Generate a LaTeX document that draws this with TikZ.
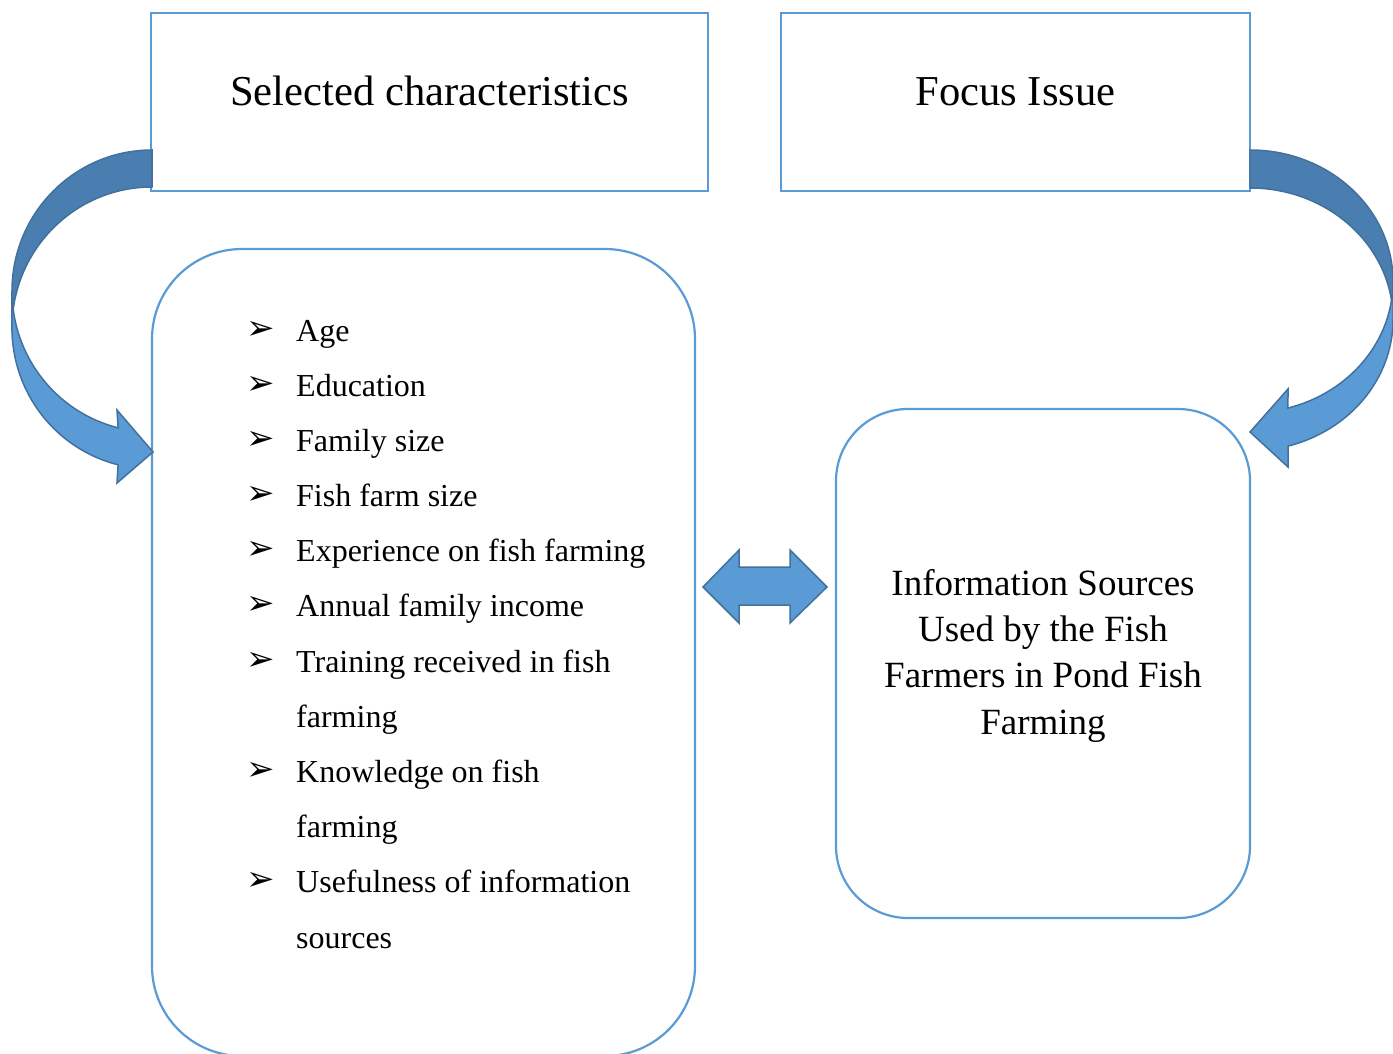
\documentclass[tikz,border=0pt]{standalone}
\usepackage{fontspec}
\setmainfont{Liberation Serif}
\newfontfamily\symfont{DejaVu Sans}
\definecolor{boxblue}{HTML}{5B9BD5}
\definecolor{arrowlight}{HTML}{5B9BD5}
\definecolor{arrowdark}{HTML}{4A7EB0}
\definecolor{arrowline}{HTML}{41719C}
\begin{document}
\begin{tikzpicture}[x=1pt,y=-1pt,
  framebox/.style={draw=boxblue, line width=2.2pt, fill=white, inner sep=0pt},
  roundbox/.style={framebox, rounded corners=#1},
  lightarrow/.style={fill=arrowlight, draw=arrowline, line width=1.5pt, line join=miter},
  darkarrow/.style={fill=arrowdark, draw=arrowline, line width=1.5pt},
  titletext/.style={font=\fontsize{42.6}{50}\selectfont, inner sep=0pt},
  itemtext/.style={font=\fontsize{32}{38}\selectfont, inner sep=0pt, anchor=base west},
  bullettext/.style={font=\symfont\fontsize{34}{40}\selectfont, inner sep=0pt},
  infotext/.style={font=\fontsize{37}{44}\selectfont, inner sep=0pt, anchor=base}
]
\useasboundingbox (0,0) rectangle (1393,1054);
\clip (0,0) rectangle (1393,1054);

% boxes
\node[framebox, minimum width=557pt, minimum height=178pt] (selbox) at (429.5,102) {};
\node[framebox, minimum width=469pt, minimum height=178pt] (focbox) at (1015.5,102) {};
\node[roundbox=90pt, minimum width=543pt, minimum height=807pt] (chars) at (423.5,652.5) {};
\node[roundbox=72pt, minimum width=414pt, minimum height=509pt] (info) at (1043,663.5) {};

% titles
\node[titletext, anchor=base] (seltxt) at (429.5,105.5) {Selected characteristics};
\node[titletext, anchor=base] (foctxt) at (1015.5,105.5) {Focus Issue};

% left curved arrow
\filldraw[darkarrow] (152,150) arc[start angle=270,end angle=180,x radius=140,y radius=141]
  -- (12,328) arc[start angle=180,end angle=270,x radius=140,y radius=141] -- cycle;
\filldraw[lightarrow] (12,291) arc[start angle=180,end angle=104,x radius=140,y radius=141]
  -- (117,410) -- (153,452) -- (117,483) -- (118.1,464.8)
  arc[start angle=104,end angle=180,x radius=140,y radius=141] -- cycle;

% right curved arrow
\filldraw[darkarrow] (1250,150) arc[start angle=270,end angle=360,x radius=143,y radius=131.4]
  -- (1393,319.4) arc[start angle=0,end angle=-90,x radius=143,y radius=131.4] -- cycle;
\filldraw[lightarrow] (1393,281.4) arc[start angle=0,end angle=74.6,x radius=143,y radius=131.4]
  -- (1288,389) -- (1250,432) -- (1288,467) -- (1288,446.1)
  arc[start angle=74.6,end angle=0,x radius=143,y radius=131.4] -- cycle;

% double arrow between boxes
\filldraw[lightarrow] (703,587) -- (739,550) -- (739,567) -- (790,567) -- (790,550)
  -- (827,587) -- (790,623) -- (790,605) -- (739,605) -- (739,623) -- cycle;

% list
\foreach \y/\n in {341/b1,396/b2,451/b3,506/b4,561/b5,616/b6,672/b7,782/b8,892/b9}
  \node[bullettext] (\n) at (261,\y-11) {➢};
\node[itemtext] (i1) at (296,341) {Age};
\node[itemtext] (i2) at (296,396) {Education};
\node[itemtext] (i3) at (296,451) {Family size};
\node[itemtext] (i4) at (296,506) {Fish farm size};
\node[itemtext] (i5) at (296,561) {Experience on fish farming};
\node[itemtext] (i6) at (296,616) {Annual family income};
\node[itemtext] (i7) at (296,672) {Training received in fish};
\node[itemtext] (i7b) at (296,727) {farming};
\node[itemtext] (i8) at (296,782) {Knowledge on fish};
\node[itemtext] (i8b) at (296,837) {farming};
\node[itemtext] (i9) at (296,892) {Usefulness of information};
\node[itemtext] (i9b) at (296,948) {sources};

% info text
\node[infotext] (t1) at (1043,595) {Information Sources};
\node[infotext] (t2) at (1043,641.3) {Used by the Fish};
\node[infotext] (t3) at (1043,687.6) {Farmers in Pond Fish};
\node[infotext] (t4) at (1043,734) {Farming};
\end{tikzpicture}
\end{document}
